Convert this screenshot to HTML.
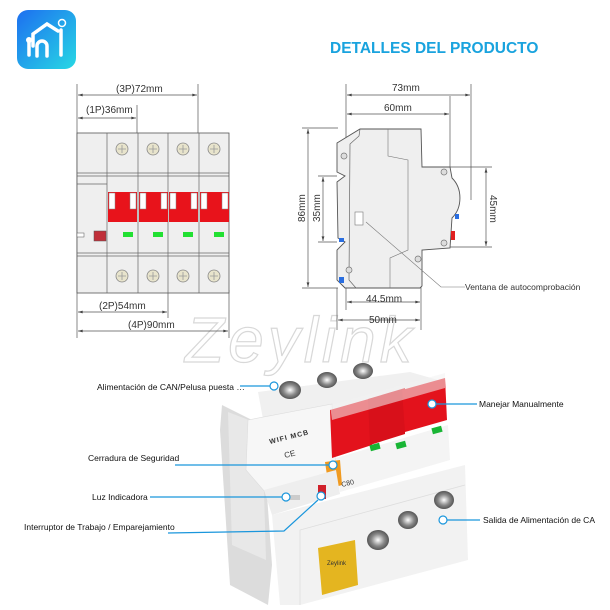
<!DOCTYPE html>
<html><head><meta charset="utf-8"><style>
html,body{margin:0;padding:0;background:#fff;}
svg{display:block;font-family:"Liberation Sans",Arial,sans-serif;}
</style></head><body>
<svg width="610" height="610" viewBox="0 0 610 610" xmlns="http://www.w3.org/2000/svg">
<defs>
<linearGradient id="ic" x1="0" y1="0" x2="1" y2="1"><stop offset="0" stop-color="#1d6ff0"/><stop offset="1" stop-color="#27d8e4"/></linearGradient>
<marker id="a" viewBox="0 0 10 6" refX="10" refY="3" markerWidth="7" markerHeight="4" orient="auto-start-reverse"><path d="M0 0L10 3L0 6z" fill="#444"/></marker>
<radialGradient id="sc"><stop offset="0" stop-color="#fff"/><stop offset=".6" stop-color="#888"/><stop offset="1" stop-color="#555"/></radialGradient>
</defs>
<rect width="610" height="610" fill="#fff"/>
<!-- app icon -->
<rect x="17" y="10" width="59" height="59" rx="11" fill="url(#ic)"/>
<path d="M33 46 V34 L47 24 L58 31" fill="none" stroke="#fff" stroke-width="3.5" stroke-linecap="round"/>
<path d="M29 40 V55 M29 42 a6 6 0 0 1 0 0" stroke="#fff" stroke-width="3.5" fill="none" stroke-linecap="round"/>
<path d="M37 56 V46 a5 5 0 0 1 10 0 V56" fill="none" stroke="#fff" stroke-width="3.5" stroke-linecap="round"/>
<path d="M61 30 V55" stroke="#fff" stroke-width="3.5" stroke-linecap="round"/>
<circle cx="62" cy="23" r="3.5" fill="none" stroke="#fff" stroke-width="1.5"/>
<circle cx="29" cy="40" r="3" fill="#fff"/>
<!-- title -->
<text x="330" y="53" font-size="15.5" font-weight="bold" fill="#19a3de">DETALLES DEL PRODUCTO</text>
<!-- watermark -->
<text x="185" y="362" font-size="64" fill="none" stroke="#d8d8d8" stroke-width="1.2" font-style="italic" letter-spacing="4">Zeylink</text>

<!-- FRONT VIEW -->
<g stroke="#555" stroke-width="0.7" fill="none">
<line x1="77" y1="84" x2="77" y2="338"/><line x1="198" y1="84" x2="198" y2="135"/>
<line x1="137" y1="105" x2="137" y2="135"/><line x1="168" y1="290" x2="168" y2="318"/><line x1="229" y1="290" x2="229" y2="338"/>
<line x1="78" y1="95" x2="197" y2="95" marker-start="url(#a)" marker-end="url(#a)"/>
<line x1="78" y1="118" x2="136" y2="118" marker-start="url(#a)" marker-end="url(#a)"/>
<line x1="78" y1="312" x2="167" y2="312" marker-start="url(#a)" marker-end="url(#a)"/>
<line x1="78" y1="331" x2="228" y2="331" marker-start="url(#a)" marker-end="url(#a)"/>
</g>
<g font-size="10" fill="#333">
<text x="116" y="92">(3P)72mm</text><text x="86" y="113">(1P)36mm</text>
<text x="99" y="309">(2P)54mm</text><text x="128" y="328">(4P)90mm</text>
</g>
<rect x="77" y="133" width="152" height="160" fill="#efefef" stroke="#555" stroke-width="0.8"/>
<g stroke="#666" stroke-width="0.7" fill="none">
<line x1="107" y1="133" x2="107" y2="293"/><line x1="138" y1="133" x2="138" y2="293"/><line x1="168" y1="133" x2="168" y2="293"/><line x1="199" y1="133" x2="199" y2="293"/>
<line x1="77" y1="173" x2="229" y2="173"/><line x1="77" y1="176" x2="229" y2="176"/>
<line x1="77" y1="253" x2="229" y2="253"/><line x1="77" y1="256" x2="229" y2="256"/>
<line x1="77" y1="184" x2="107" y2="184"/>
</g>
<g fill="#e8e4cc" stroke="#888" stroke-width="0.8">
<circle cx="122" cy="149" r="6"/><circle cx="153" cy="149" r="6"/><circle cx="183" cy="149" r="6"/><circle cx="214" cy="149" r="6"/>
<circle cx="122" cy="276" r="6"/><circle cx="153" cy="276" r="6"/><circle cx="183" cy="276" r="6"/><circle cx="214" cy="276" r="6"/>
</g>
<g stroke="#999" stroke-width="0.8">
<path d="M118 149h8M122 145v8M149 149h8M153 145v8M179 149h8M183 145v8M210 149h8M214 145v8M118 276h8M122 272v8M149 276h8M153 272v8M179 276h8M183 272v8M210 276h8M214 272v8"/>
</g>
<g fill="#e8131b">
<rect x="108" y="192" width="29" height="30"/><rect x="139" y="192" width="29" height="30"/><rect x="169" y="192" width="29" height="30"/><rect x="200" y="192" width="29" height="30"/>
</g>
<g fill="#fff" stroke="#888" stroke-width="0.5">
<rect x="109" y="193" width="6" height="16"/><rect x="130" y="193" width="6" height="16"/>
<rect x="140" y="193" width="6" height="16"/><rect x="161" y="193" width="6" height="16"/>
<rect x="170" y="193" width="6" height="16"/><rect x="191" y="193" width="6" height="16"/>
<rect x="201" y="193" width="6" height="16"/><rect x="222" y="193" width="6" height="16"/>
</g>
<g fill="#22e032"><rect x="123" y="232" width="10" height="5"/><rect x="153" y="232" width="10" height="5"/><rect x="183" y="232" width="10" height="5"/><rect x="214" y="232" width="10" height="5"/></g>
<rect x="77" y="233" width="7" height="4" fill="#fff" stroke="#555" stroke-width="0.5"/>
<rect x="94" y="231" width="12" height="10" fill="#c0303a" stroke="#555" stroke-width="0.5"/>

<!-- SIDE VIEW -->
<g stroke="#555" stroke-width="0.7" fill="none">
<line x1="346" y1="84" x2="346" y2="310"/><line x1="471" y1="84" x2="471" y2="200"/><line x1="450" y1="96" x2="450" y2="168"/>
<line x1="347" y1="95" x2="470" y2="95" marker-start="url(#a)" marker-end="url(#a)"/>
<line x1="347" y1="114" x2="449" y2="114" marker-start="url(#a)" marker-end="url(#a)"/>
<line x1="302" y1="128" x2="338" y2="128"/><line x1="302" y1="288" x2="338" y2="288"/>
<line x1="308" y1="129" x2="308" y2="287" marker-start="url(#a)" marker-end="url(#a)"/>
<line x1="318" y1="176" x2="337" y2="176"/><line x1="318" y1="242" x2="337" y2="242"/>
<line x1="323" y1="177" x2="323" y2="241" marker-start="url(#a)" marker-end="url(#a)"/>
<line x1="450" y1="167" x2="492" y2="167"/><line x1="450" y1="247" x2="492" y2="247"/>
<line x1="486" y1="168" x2="486" y2="246" marker-start="url(#a)" marker-end="url(#a)"/>
<line x1="337" y1="288" x2="337" y2="330"/><line x1="421" y1="280" x2="421" y2="330"/>
<line x1="347" y1="302" x2="420" y2="302" marker-start="url(#a)" marker-end="url(#a)"/>
<line x1="338" y1="320" x2="420" y2="320" marker-start="url(#a)" marker-end="url(#a)"/>
</g>
<path d="M337 143 L360 129 L421 129 L422 167 L450 167 L452 178 A22 26 0 0 1 452 218 L450 248 L422 250 L422 286 L420 288 L345 288 L337 280 L337 250 L345 242 L338 238 L337 182 L345 176 L337 172 Z" fill="#efefef" stroke="#555" stroke-width="0.9"/>
<path d="M360 129 L359 136 L350 144 L349 280 L356 288" fill="none" stroke="#666" stroke-width="0.7"/>
<path d="M388 129 L388 156 L408 160 L408 250 L390 258 L390 288" fill="none" stroke="#777" stroke-width="0.6"/>
<g fill="#ddd" stroke="#777" stroke-width="0.7"><circle cx="344" cy="156" r="3"/><circle cx="444" cy="172" r="3"/><circle cx="444" cy="243" r="3"/><circle cx="418" cy="259" r="3"/><circle cx="349" cy="270" r="3"/></g>
<rect x="355" y="212" width="8" height="13" fill="#fff" stroke="#777" stroke-width="0.6"/>
<polyline points="366,222 441,287 465,287" fill="none" stroke="#777" stroke-width="0.6"/>
<rect x="451" y="231" width="4" height="9" fill="#e02020"/>
<rect x="339" y="238" width="5" height="4" fill="#2a6ee0"/><rect x="339" y="277" width="5" height="6" fill="#2a6ee0"/><rect x="455" y="214" width="4" height="5" fill="#2a6ee0"/>
<g font-size="10" fill="#333">
<text x="392" y="91">73mm</text><text x="384" y="111">60mm</text><text x="366" y="302">44.5mm</text><text x="369" y="323">50mm</text>
<text x="305" y="222" transform="rotate(-90 305 222)">86mm</text>
<text x="320" y="222" transform="rotate(-90 320 222)">35mm</text>
<text x="490" y="195" transform="rotate(90 490 195)">45mm</text>
<text x="465" y="290" font-size="8.5">Ventana de autocomprobación</text>
</g>

<!-- 3D DEVICE -->
<path d="M222 405 L262 425 L272 565 L268 605 L230 585 L220 430 Z" fill="#dcdcdc"/>
<path d="M228 412 L262 425 L266 560 L232 545 Z" fill="#e8e8e8"/>
<path d="M258 392 L410 372 L445 382 L445 402 L265 430 Z" fill="#f0f0f0"/>
<g fill="url(#sc)"><ellipse cx="290" cy="390" rx="11" ry="9"/><ellipse cx="327" cy="380" rx="10" ry="8"/><ellipse cx="363" cy="371" rx="10" ry="8"/></g>
<path d="M248 420 L332 404 L336 470 L265 492 L246 470 Z" fill="#f7f7f7" stroke="#ddd" stroke-width="0.6"/>
<text x="270" y="444" font-size="7" font-weight="bold" fill="#333" transform="rotate(-14 270 444)" letter-spacing="1">WIFI MCB</text>
<text x="285" y="458" font-size="8" fill="#333" transform="rotate(-14 285 458)">CE</text>
<path d="M330 410 L372 398 L372 445 L332 458 Z" fill="#e3121c"/>
<path d="M368 399 L405 388 L405 434 L370 445 Z" fill="#d8101a"/>
<path d="M402 390 L445 378 L447 420 L405 432 Z" fill="#e3121c"/>
<path d="M330 405 L445 373 L445 388 L332 420 Z" fill="#f2f2f2" opacity=".55"/>
<path d="M336 458 L448 425 L450 460 L340 492 Z" fill="#f4f4f4"/>
<path d="M325 462 L340 460 L342 485 L329 489 Z" fill="#f09a20"/>
<rect x="370" y="444" width="10" height="6" fill="#19b535" transform="rotate(-15 375 447)"/>
<rect x="396" y="442" width="10" height="6" fill="#19b535" transform="rotate(-15 401 445)"/>
<rect x="432" y="427" width="10" height="6" fill="#19b535" transform="rotate(-15 437 430)"/>
<text x="342" y="487" font-size="7" fill="#333" transform="rotate(-14 342 487)">C80</text>
<path d="M264 490 L336 470 L340 494 L272 515 Z" fill="#eee"/>
<rect x="318" y="485" width="8" height="14" fill="#d0202a"/>
<rect x="288" y="495" width="12" height="5" fill="#ccc"/>
<path d="M272 515 L465 465 L468 560 L300 605 L280 605 Z" fill="#f2f2f2"/>
<path d="M300 605 L300 530 L465 485" fill="none" stroke="#ddd" stroke-width="0.8"/>
<g fill="url(#sc)"><ellipse cx="378" cy="540" rx="11" ry="10"/><ellipse cx="408" cy="520" rx="10" ry="9"/><ellipse cx="444" cy="500" rx="10" ry="9"/></g>
<path d="M318 548 L355 540 L358 585 L322 595 Z" fill="#e4b520"/>
<text x="327" y="565" font-size="6" fill="#333">Zeylink</text>

<!-- callouts -->
<g stroke="#1a96dc" stroke-width="1.2" fill="none">
<line x1="240" y1="386" x2="270" y2="386"/><circle cx="274" cy="386" r="4" fill="#fff"/>
<line x1="175" y1="465" x2="330" y2="465"/><circle cx="333" cy="465" r="4" fill="#fff"/>
<line x1="150" y1="497" x2="282" y2="497"/><circle cx="286" cy="497" r="4" fill="#fff"/>
<polyline points="168,533 284,531 318,500"/><circle cx="321" cy="496" r="4" fill="#fff"/>
<line x1="436" y1="404" x2="477" y2="404"/><circle cx="432" cy="404" r="4" fill="#fff"/>
<line x1="447" y1="520" x2="480" y2="520"/><circle cx="443" cy="520" r="4" fill="#fff"/>
</g>
<g font-size="8.5" fill="#111">
<text x="97" y="390">Alimentación de CAN/Pelusa puesta …</text>
<text x="88" y="461">Cerradura de Seguridad</text>
<text x="92" y="500">Luz Indicadora</text>
<text x="24" y="530">Interruptor de Trabajo / Emparejamiento</text>
<text x="479" y="407">Manejar Manualmente</text>
<text x="483" y="523">Salida de Alimentación de CA</text>
</g>
</svg>
</body></html>
